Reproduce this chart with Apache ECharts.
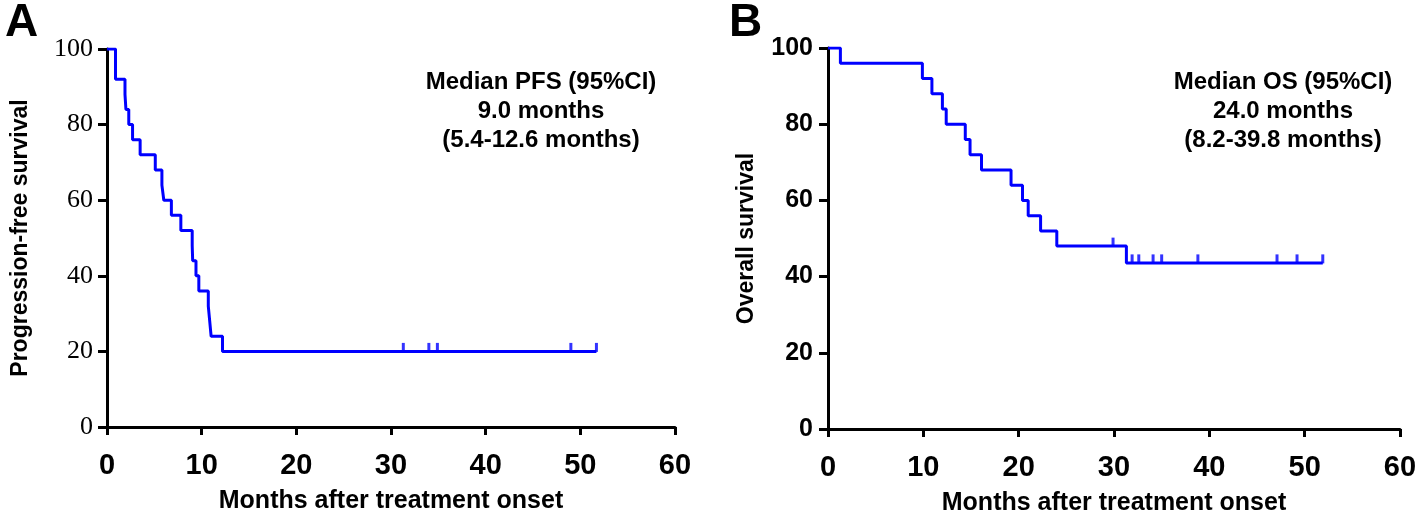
<!DOCTYPE html>
<html>
<head>
<meta charset="utf-8">
<script src="https://cdn.jsdelivr.net/npm/echarts@6/dist/echarts.min.js"></script>
<style>
html,body{margin:0;padding:0;background:#fff;}
#chart{width:1416px;height:514px;}
</style>
</head>
<body>
<div id="chart"></div>
<script>
// Panel A: progression-free survival (Kaplan-Meier steps)
const pfsTime = [0, 0.9, 1.9, 2.0, 2.3, 2.7, 3.5, 5.1, 5.8, 6.0, 6.8, 7.8, 9.0, 9.05, 9.4, 9.7, 10.7, 10.85, 11.0, 12.2, 51.7];
const pfsSurv = [100, 92, 88, 84, 80, 76, 72, 68, 64, 60, 56, 52, 48, 44, 40, 36, 32, 28, 24, 20, 20];
const pfsCensorTime = [31.3, 34.0, 34.9, 49.0, 51.7];
const pfsCensorSurv = [20, 20, 20, 20, 20];

// Panel B: overall survival
const osTime = [0, 1.3, 9.9, 10.9, 12.0, 12.4, 14.4, 14.9, 16.1, 19.2, 20.4, 21.0, 22.3, 24.0, 31.3, 51.9];
const osSurv = [100, 96, 92, 88, 84, 80, 76, 72, 68, 64, 60, 56, 52, 48, 43.6, 43.6];
const osCensorTime = [29.9, 31.9, 32.6, 34.1, 35.0, 38.8, 47.1, 49.2, 51.9];
const osCensorSurv = [48, 43.6, 43.6, 43.6, 43.6, 43.6, 43.6, 43.6, 43.6];

const xTicks = [0, 10, 20, 30, 40, 50, 60];
const yTicks = [0, 20, 40, 60, 80, 100];
const xTitle = 'Months after treatment onset';
const yTitleA = 'Progression-free survival';
const yTitleB = 'Overall survival';
const noteA = ['Median PFS (95%CI)', '9.0 months', '(5.4-12.6 months)'];
const noteB = ['Median OS (95%CI)', '24.0 months', '(8.2-39.8 months)'];

const zip = (a, b) => a.map((v, i) => [v, b[i]]);
const blue = '#0000ff';
const sans = 'Liberation Sans, Arial, sans-serif';
const serif = 'Liberation Serif, Times New Roman, serif';

function xAxis(gi) {
  return {
    type: 'value', gridIndex: gi, min: 0, max: 60, interval: 10,
    splitLine: {show: false},
    axisLine: {show: true, lineStyle: {color: '#000', width: 3}},
    axisTick: {show: true, length: 8, lineStyle: {color: '#000', width: 3}},
    axisLabel: {color: '#000', fontFamily: sans, fontWeight: 'bold', fontSize: 29, margin: 24,
      formatter: v => xTicks.includes(v) ? String(v) : ''},
    name: xTitle, nameLocation: 'middle', nameGap: 62,
    nameTextStyle: {color: '#000', fontFamily: sans, fontWeight: 'bold', fontSize: 25}
  };
}
function yAxis(gi, serifLabels, title, gap) {
  return {
    type: 'value', gridIndex: gi, min: 0, max: 100, interval: 20,
    splitLine: {show: false},
    axisLine: {show: true, onZero: false, lineStyle: {color: '#000', width: 3}},
    axisTick: {show: true, length: 9, lineStyle: {color: '#000', width: 3}},
    axisLabel: serifLabels
      ? {color: '#000', fontFamily: serif, fontSize: 26, margin: 14, formatter: v => yTicks.includes(v) ? String(v) : ''}
      : {color: '#000', fontFamily: sans, fontWeight: 'bold', fontSize: 25, margin: 15, formatter: v => yTicks.includes(v) ? String(v) : ''},
    name: title, nameLocation: 'middle', nameGap: gap, nameRotate: 90,
    nameTextStyle: {color: '#000', fontFamily: sans, fontWeight: 'bold', fontSize: 23}
  };
}
function note(lines, cx) {
  return {
    text: lines.join('\n'), left: cx, top: 63, textAlign: 'center',
    textStyle: {color: '#000', fontFamily: sans, fontWeight: 'bold', fontSize: 24, lineHeight: 29, align: 'center'}
  };
}

const chart = echarts.init(document.getElementById('chart'), null, {renderer: 'canvas'});
chart.setOption({
  backgroundColor: '#fff',
  animation: false,
  title: [
    {text: 'A', left: 0, top: -5, textStyle: {color: '#000', fontFamily: sans, fontWeight: 'bold', fontSize: 46}},
    {text: 'B', left: 724, top: -5, textStyle: {color: '#000', fontFamily: sans, fontWeight: 'bold', fontSize: 46}},
    note(noteA, 536),
    note(noteB, 1278)
  ],
  grid: [
    {left: 107, right: 741, top: 49, bottom: 87, containLabel: false, outerBoundsMode: 'none'},
    {left: 828, right: 16, top: 48, bottom: 85, containLabel: false, outerBoundsMode: 'none'}
  ],
  xAxis: [xAxis(0), xAxis(1)],
  yAxis: [yAxis(0, true, yTitleA, 75), yAxis(1, false, yTitleB, 70)],
  series: [
    {type: 'line', xAxisIndex: 0, yAxisIndex: 0, step: 'end', data: zip(pfsTime, pfsSurv),
      showSymbol: false, lineStyle: {color: blue, width: 3}, z: 3},
    {type: 'scatter', xAxisIndex: 0, yAxisIndex: 0, data: zip(pfsCensorTime, pfsCensorSurv),
      symbol: 'rect', symbolSize: [3, 9], symbolOffset: [0, -4], itemStyle: {color: blue}, z: 4},
    {type: 'line', xAxisIndex: 1, yAxisIndex: 1, step: 'end', data: zip(osTime, osSurv),
      showSymbol: false, lineStyle: {color: blue, width: 3}, z: 3},
    {type: 'scatter', xAxisIndex: 1, yAxisIndex: 1, data: zip(osCensorTime, osCensorSurv),
      symbol: 'rect', symbolSize: [3, 9], symbolOffset: [0, -4], itemStyle: {color: blue}, z: 4}
  ]
});
</script>
</body>
</html>
